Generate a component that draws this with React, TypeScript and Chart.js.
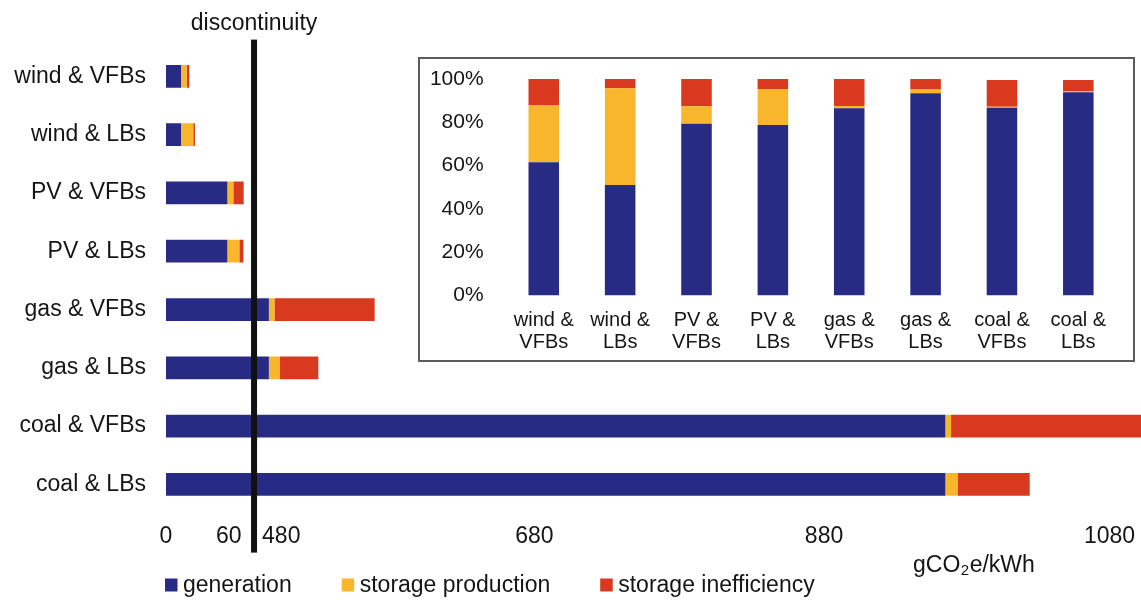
import React, { useEffect, useRef } from "react";
import { Chart, registerables, LinearScale } from "chart.js";

// ---- data (gCO2e/kWh) ----
const categories = [
  "wind & VFBs",
  "wind & LBs",
  "PV & VFBs",
  "PV & LBs",
  "gas & VFBs",
  "gas & LBs",
  "coal & VFBs",
  "coal & LBs",
];
const generation = [14.4, 14.4, 58.7, 58.7, 470, 470, 965, 965];
const storageProduction = [5.4, 11.7, 5.7, 11.4, 4.5, 9, 4, 8.5];
const storageInefficiency = [2.5, 1.6, 9.8, 3.8, 79.3, 30.3, 145, 50.6];
const xTickValues = [0, 60, 480, 680, 880, 1080];

// ---- shares of each total (%) ----
const insetCategories = [
  ["wind &", "VFBs"],
  ["wind &", "LBs"],
  ["PV &", "VFBs"],
  ["PV &", "LBs"],
  ["gas &", "VFBs"],
  ["gas &", "LBs"],
  ["coal &", "VFBs"],
  ["coal &", "LBs"],
];
const shareGeneration = [61.5, 51, 79.3, 78.8, 86.5, 93.4, 86.7, 93.9];
const shareStorageProduction = [26.3, 44.7, 8.1, 16.6, 1.0, 1.8, 0.5, 0.6];
const shareStorageInefficiency = [12.2, 4.3, 12.6, 4.6, 12.5, 4.8, 12.3, 5.0];
const percentTicks = [0, 20, 40, 60, 80, 100];

const seriesLabels = ["generation", "storage production", "storage inefficiency"];
const NAVY = "#282b84";
const AMBER = "#f8b62d";
const RED = "#d93a1f";
const TEXT = "#151515";
const FONT = '"Liberation Sans", Arial, Helvetica, sans-serif';

// Axis break: values between these two collapse onto the discontinuity line.
const BREAK_LOW = 84;
const BREAK_HIGH = 458;

// Linear scale whose value→position mapping is piecewise linear, so that the
// axis can jump from the low range to the high range.
class BrokenLinearScale extends LinearScale {
  static id = "brokenLinear";
  static defaults = {};

  knotList(): number[][] {
    return ((this.options as any).knots || [[this.min, 0], [this.max, 1]]) as number[][];
  }

  toDecimal(v: number): number {
    const k = this.knotList();
    let i = 0;
    while (i < k.length - 2 && v > k[i + 1][0]) i++;
    const [v0, d0] = k[i];
    const [v1, d1] = k[i + 1];
    if (v1 === v0) return d0;
    return d0 + ((v - v0) / (v1 - v0)) * (d1 - d0);
  }

  fromDecimal(d: number): number {
    const k = this.knotList();
    let i = 0;
    while (i < k.length - 2 && d > k[i + 1][1]) i++;
    const [v0, d0] = k[i];
    const [v1, d1] = k[i + 1];
    if (d1 === d0) return v0;
    return v0 + ((d - d0) / (d1 - d0)) * (v1 - v0);
  }

  getPixelForValue(value: number): number {
    if (value === null || value === undefined || isNaN(value)) return NaN;
    return this.getPixelForDecimal(this.toDecimal(value));
  }

  getValueForPixel(pixel: number): number {
    return this.fromDecimal(this.getDecimalForPixel(pixel));
  }
}

Chart.register(...registerables, BrokenLinearScale);
Chart.defaults.font.family = FONT;
Chart.defaults.color = TEXT;

// Fixed axis sizes; label overhang is already covered by the layout padding.
const fixWidth = (w: number) => (s: any) => {
  s.width = w;
  s.paddingTop = 0;
  s.paddingBottom = 0;
};
const fixHeight = (h: number) => (s: any) => {
  s.height = h;
  s.paddingLeft = 0;
  s.paddingRight = 0;
};

// Break line, its caption, the unit label and the legend row.
const mainDecorations = {
  id: "mainDecorations",
  afterDatasetsDraw(chart: any) {
    const { ctx, chartArea, scales } = chart;
    const bx = scales.x.getPixelForValue(BREAK_LOW);
    ctx.save();
    ctx.fillStyle = "#111";
    ctx.fillRect(bx - 3, chartArea.top - 7.5, 6, chartArea.bottom + 39 - (chartArea.top - 7.5));

    ctx.fillStyle = TEXT;
    ctx.font = `23px ${FONT}`;
    ctx.textAlign = "center";
    ctx.textBaseline = "alphabetic";
    ctx.fillText("discontinuity", bx, 30);

    // unit label with a subscript 2
    const ux = 913;
    const uy = 571.5;
    ctx.textAlign = "left";
    ctx.font = `23px ${FONT}`;
    ctx.fillText("gCO", ux, uy);
    let cx = ux + ctx.measureText("gCO").width;
    ctx.font = `15px ${FONT}`;
    ctx.fillText("2", cx + 0.5, uy + 3);
    cx += ctx.measureText("2").width + 1;
    ctx.font = `23px ${FONT}`;
    ctx.fillText("e/kWh", cx, uy);

    // legend
    let lx = chartArea.left - 1;
    const ly = 585;
    ctx.textBaseline = "middle";
    chart.data.datasets.forEach((ds: any) => {
      ctx.fillStyle = ds.backgroundColor;
      ctx.fillRect(lx, ly - 6.5, 12.5, 13);
      lx += 18;
      ctx.fillStyle = TEXT;
      ctx.font = `23px ${FONT}`;
      ctx.fillText(ds.label, lx, ly + 1);
      lx += ctx.measureText(ds.label).width + 50;
    });
    ctx.restore();
  },
};

export default function App() {
  const mainRef = useRef<HTMLCanvasElement>(null);
  const insetRef = useRef<HTMLCanvasElement>(null);

  useEffect(() => {
    const main = new Chart(mainRef.current as HTMLCanvasElement, {
      type: "bar",
      data: {
        labels: categories,
        datasets: [
          { label: seriesLabels[0], data: generation, backgroundColor: NAVY },
          { label: seriesLabels[1], data: storageProduction, backgroundColor: AMBER },
          { label: seriesLabels[2], data: storageInefficiency, backgroundColor: RED },
        ],
      },
      options: {
        indexAxis: "y",
        responsive: false,
        animation: false,
        layout: { autoPadding: false, padding: { left: 0, right: 0, top: 47.1, bottom: 46.4 } },
        datasets: { bar: { barPercentage: 0.39, categoryPercentage: 1 } },
        plugins: { legend: { display: false }, tooltip: { enabled: false } },
        scales: {
          x: {
            type: "brokenLinear",
            stacked: true,
            min: 0,
            max: 1102,
            knots: [
              [0, 0],
              [60, 0.0643],
              [BREAK_LOW, 0.0903],
              [BREAK_HIGH, 0.0903],
              [480, 0.1182],
              [680, 0.3778],
              [880, 0.6749],
              [1080, 0.9677],
              [1102, 1],
            ],
            grid: { display: false, drawTicks: false },
            border: { display: false },
            afterBuildTicks: (s: any) => {
              s.ticks = xTickValues.map((value) => ({ value }));
            },
            afterFit: fixHeight(40),
            ticks: {
              autoSkip: false,
              maxRotation: 0,
              padding: 9,
              color: TEXT,
              font: { size: 23 },
              callback: (v: any) => String(v),
            },
          } as any,
          y: {
            stacked: true,
            grid: { display: false, drawTicks: false },
            border: { display: false },
            afterFit: fixWidth(166),
            ticks: { padding: 20, color: TEXT, font: { size: 23 } },
          },
        },
      },
      plugins: [mainDecorations],
    });

    const inset = new Chart(insetRef.current as HTMLCanvasElement, {
      type: "bar",
      data: {
        labels: insetCategories,
        datasets: [
          { label: seriesLabels[0], data: shareGeneration, backgroundColor: NAVY },
          { label: seriesLabels[1], data: shareStorageProduction, backgroundColor: AMBER },
          { label: seriesLabels[2], data: shareStorageInefficiency, backgroundColor: RED },
        ],
      },
      options: {
        responsive: false,
        animation: false,
        layout: { autoPadding: false, padding: { left: 0, right: 16.5, top: 20, bottom: 0 } },
        datasets: { bar: { barPercentage: 0.4, categoryPercentage: 1 } },
        plugins: { legend: { display: false }, tooltip: { enabled: false } },
        scales: {
          x: {
            stacked: true,
            grid: { display: false, drawTicks: false },
            border: { display: false },
            afterFit: fixHeight(64.5),
            ticks: {
              autoSkip: false,
              maxRotation: 0,
              padding: 13.5,
              color: TEXT,
              font: { size: 20, lineHeight: 1.1 },
            },
          },
          y: {
            stacked: true,
            min: 0,
            max: 100,
            grid: { display: false, drawTicks: false },
            border: { display: false },
            afterBuildTicks: (s: any) => {
              s.ticks = percentTicks.map((value) => ({ value }));
            },
            afterFit: fixWidth(85.6),
            ticks: {
              padding: 22,
              color: TEXT,
              font: { size: 21 },
              callback: (v: any) => `${v}%`,
            },
          },
        },
      },
    });

    return () => {
      main.destroy();
      inset.destroy();
    };
  }, []);

  return (
    <div
      style={{
        position: "fixed",
        left: 0,
        top: 0,
        width: 1141,
        height: 600,
        background: "#fff",
        overflow: "hidden",
      }}
    >
      <canvas
        ref={mainRef}
        width={1141}
        height={600}
        style={{ position: "absolute", left: 0, top: 0 }}
      />
      <div
        style={{
          position: "absolute",
          left: 418,
          top: 57,
          width: 717,
          height: 305,
          boxSizing: "border-box",
          border: "2px solid #5c5c5c",
          background: "#fff",
        }}
      >
        <canvas ref={insetRef} width={713} height={301} style={{ display: "block" }} />
      </div>
    </div>
  );
}
